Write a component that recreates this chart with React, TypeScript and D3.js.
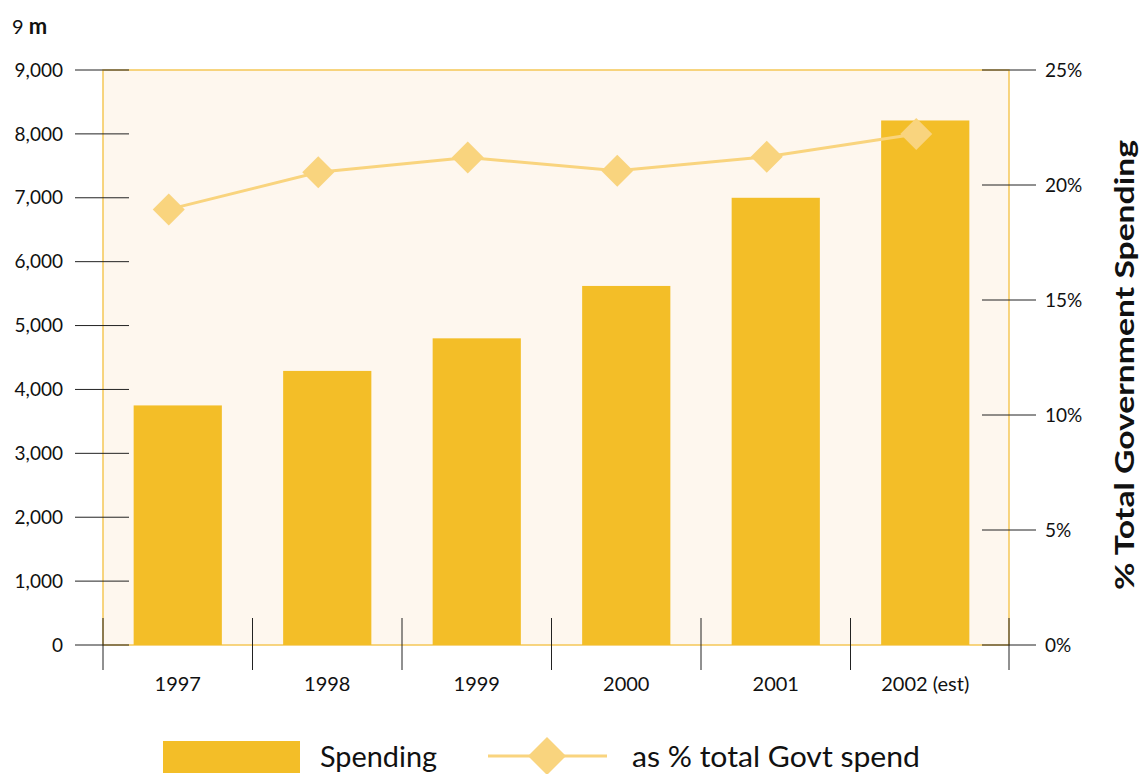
import React from "react";
import * as d3 from "d3";

const categories = ["1997", "1998", "1999", "2000", "2001", "2002 (est)"];
const spending = [3750, 4290, 4800, 5620, 7000, 8210];
const pctGovt = [18.94, 20.55, 21.2, 20.62, 21.23, 22.22];
const leftTicks = [0, 1000, 2000, 3000, 4000, 5000, 6000, 7000, 8000, 9000];
const rightTicks = [0, 5, 10, 15, 20, 25];

const W = 1141;
const H = 774;
const FONT = "Lato, 'Open Sans', sans-serif";
const BAR = "#F3BE28";
const LINE = "#F9D47E";
const BG = "#FEF7EE";
const BORDER = "#F5C757";

export default function App() {
  const x0 = 103, x1 = 1009, yTop = 70, yBot = 645;
  const catEnd = 1000;
  const xb = d3.scaleBand<string>().domain(categories).range([x0, catEnd]);
  const x = d3.scaleBand<string>().domain(categories).range([x0, catEnd]).paddingInner(0.41).paddingOuter(0.205);
  const yL = d3.scaleLinear().domain([0, 9000]).range([yBot, yTop]);
  const yR = d3.scaleLinear().domain([0, 25]).range([yBot, yTop]);
  const fmt = d3.format(",");
  const px = (i: number) => (xb(categories[i]) as number) + xb.bandwidth() * 0.44;
  const line = d3.line<number>().x((_, i) => px(i)).y((d) => yR(d));
  const diamond = (cx: number, cy: number, r: number) =>
    `M${cx},${cy - r}L${cx + r},${cy}L${cx},${cy + r}L${cx - r},${cy}Z`;

  return (
    <svg width={W} height={H} style={{ position: "absolute", left: 0, top: 0 }} fontFamily={FONT}>
      <rect x={0} y={0} width={W} height={H} fill="#fff" />
      <text x={12} y={34} fontSize={20} fill="#111">
        9 <tspan fontWeight="bold" fontSize={22}>m</tspan>
      </text>
      <rect x={x0} y={yTop} width={x1 - x0} height={yBot - yTop} fill={BG} stroke={BORDER} strokeWidth={1.5} />
      {categories.map((c, i) => (
        <rect key={c} x={x(c)} y={yL(spending[i])} width={x.bandwidth()} height={yBot - yL(spending[i])} fill={BAR} />
      ))}
      {leftTicks.map((t) => (
        <g key={t}>
          <line x1={75} x2={129} y1={yL(t)} y2={yL(t)} stroke="#222" strokeWidth={1} />
          <text x={63} y={yL(t)} dy="0.35em" textAnchor="end" fontSize={19} fill="#111">{fmt(t)}</text>
        </g>
      ))}
      {rightTicks.map((t) => (
        <g key={t}>
          <line x1={982} x2={1036} y1={yR(t)} y2={yR(t)} stroke="#222" strokeWidth={1} />
          <text x={1045} y={yR(t)} dy="0.35em" textAnchor="start" fontSize={19} fill="#111">{t}%</text>
        </g>
      ))}
      {[...categories.map((c) => xb(c) as number), x1].map((bx, i) => (
        <line key={i} x1={bx} x2={bx} y1={618} y2={670} stroke="#222" strokeWidth={1} />
      ))}
      {categories.map((c) => (
        <text key={c} x={(xb(c) as number) + xb.bandwidth() / 2} y={691} textAnchor="middle" fontSize={20} fill="#111">{c}</text>
      ))}
      <path d={line(pctGovt) || ""} fill="none" stroke={LINE} strokeWidth={3} />
      {pctGovt.map((p, i) => (
        <path key={i} d={diamond(px(i), yR(p), 16)} fill={LINE} />
      ))}
      <text transform={`translate(1134,365) rotate(-90)`} textAnchor="middle" fontSize={27} fontWeight="bold" fill="#111"
        textLength={450} lengthAdjust="spacingAndGlyphs">
        % Total Government Spending
      </text>
      <rect x={163} y={741} width={137} height={32} fill={BAR} />
      <text x={320} y={767} fontSize={28} fill="#111" textLength={117} lengthAdjust="spacingAndGlyphs">Spending</text>
      <line x1={488} x2={607} y1={756} y2={756} stroke={LINE} strokeWidth={3} />
      <path d={diamond(547, 756, 19)} fill={LINE} />
      <text x={632} y={767} fontSize={28} fill="#111" textLength={288} lengthAdjust="spacingAndGlyphs">as % total Govt spend</text>
    </svg>
  );
}
